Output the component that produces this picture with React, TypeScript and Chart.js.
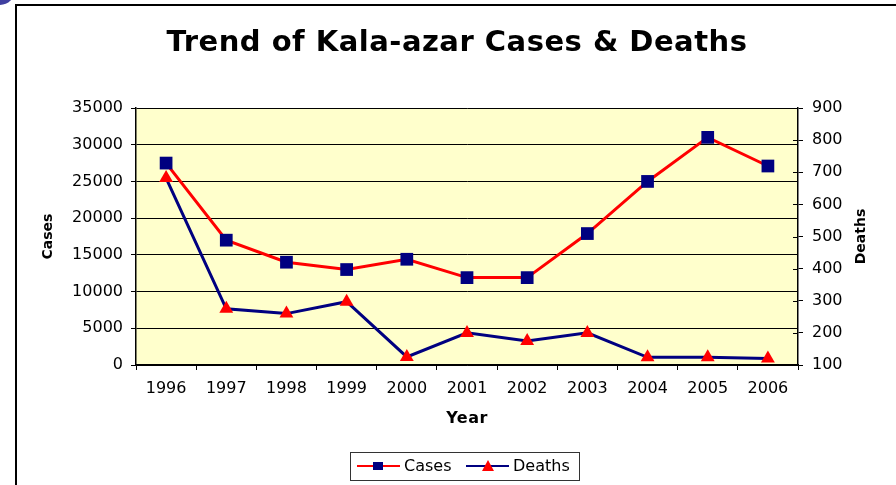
import React, { useEffect, useRef } from 'react';
import { Chart, registerables } from 'chart.js';

Chart.register(...registerables);

const years = ['1996', '1997', '1998', '1999', '2000', '2001', '2002', '2003', '2004', '2005', '2006'];
const cases = [27500, 17000, 14000, 13000, 14400, 11900, 11900, 17900, 25000, 31000, 27100];
const deaths = [682, 275, 260, 297, 125, 200, 175, 200, 124, 124, 120];

const casesMin = 0;
const casesMax = 35000;
const casesStep = 5000;
const deathsMin = 100;
const deathsMax = 900;
const deathsStep = 100;

const TITLE = 'Trend of Kala-azar Cases & Deaths';
const X_TITLE = 'Year';
const Y_TITLE = 'Cases';
const Y1_TITLE = 'Deaths';

const RED = '#FF0000';
const NAVY = '#000080';
const FONT = 'DejaVu Sans';

const decorPlugin = {
  id: 'decor',
  beforeDraw(chart: any) {
    const { ctx, width, height, chartArea } = chart;
    ctx.save();
    ctx.fillStyle = '#ffffff';
    ctx.fillRect(0, 0, width, height);
    // slide decoration (top-left)
    ctx.fillStyle = '#3f3fa0';
    ctx.beginPath();
    ctx.arc(0, -10, 15, 0, Math.PI * 2);
    ctx.fill();
    // frame
    ctx.strokeStyle = '#000000';
    ctx.lineWidth = 2;
    ctx.beginPath();
    ctx.moveTo(16, height + 2);
    ctx.lineTo(16, 5);
    ctx.lineTo(width + 2, 5);
    ctx.stroke();
    // plot area
    ctx.fillStyle = '#FFFFCC';
    ctx.fillRect(chartArea.left, chartArea.top, chartArea.right - chartArea.left, chartArea.bottom - chartArea.top);
    ctx.restore();
  },
  afterDraw(chart: any) {
    const { ctx, chartArea, scales } = chart;
    ctx.save();
    // inner part of right-axis ticks
    const y1 = scales.y1;
    ctx.strokeStyle = '#000000';
    ctx.lineWidth = 1;
    y1.ticks.forEach((t: any) => {
      const py = Math.round(y1.getPixelForValue(t.value)) + 0.5;
      ctx.beginPath();
      ctx.moveTo(chartArea.right - 5, py);
      ctx.lineTo(chartArea.right, py);
      ctx.stroke();
    });

    ctx.fillStyle = '#000000';
    // title
    ctx.font = `bold 29px "${FONT}"`;
    ctx.textAlign = 'center';
    ctx.textBaseline = 'middle';
    (ctx as any).letterSpacing = '0.5px';
    ctx.fillText(TITLE, 457, 43);
    (ctx as any).letterSpacing = '0px';

    // x title
    ctx.font = `bold 16px "${FONT}"`;
    (ctx as any).letterSpacing = '0.5px';
    ctx.fillText(X_TITLE, (chartArea.left + chartArea.right) / 2, 419);
    (ctx as any).letterSpacing = '0px';

    // y titles (both read bottom-to-top)
    const midY = (chartArea.top + chartArea.bottom) / 2;
    ctx.font = `bold 14px "${FONT}"`;
    ctx.save();
    ctx.translate(48, midY);
    ctx.rotate(-Math.PI / 2);
    ctx.fillText(Y_TITLE, 0, 0);
    ctx.restore();
    ctx.save();
    ctx.translate(861, midY);
    ctx.rotate(-Math.PI / 2);
    ctx.fillText(Y1_TITLE, 0, 0);
    ctx.restore();

    // legend
    const ds = chart.data.datasets;
    const lx = 350.5, ly = 452.5, lw = 229, lh = 28;
    ctx.strokeStyle = '#333333';
    ctx.lineWidth = 1;
    ctx.strokeRect(lx, ly, lw, lh);
    const cy = 466;
    ctx.font = `16px "${FONT}"`;
    ctx.textAlign = 'left';
    // Cases item
    ctx.strokeStyle = ds[0].borderColor;
    ctx.lineWidth = 2;
    ctx.beginPath();
    ctx.moveTo(357, cy);
    ctx.lineTo(400, cy);
    ctx.stroke();
    ctx.fillStyle = ds[0].pointBackgroundColor;
    ctx.fillRect(373, cy - 4, 10, 8);
    ctx.fillStyle = '#000000';
    ctx.fillText(ds[0].label, 404, cy + 1);
    // Deaths item
    ctx.strokeStyle = ds[1].borderColor;
    ctx.beginPath();
    ctx.moveTo(466, cy);
    ctx.lineTo(509, cy);
    ctx.stroke();
    ctx.fillStyle = ds[1].pointBackgroundColor;
    ctx.beginPath();
    ctx.moveTo(488, cy - 6);
    ctx.lineTo(494, cy + 5);
    ctx.lineTo(482, cy + 5);
    ctx.closePath();
    ctx.fill();
    ctx.fillStyle = '#000000';
    ctx.fillText(ds[1].label, 513, cy + 1);
    ctx.restore();
  },
};

const plain = (v: any) => String(v);

export default function App() {
  const canvasRef = useRef<HTMLCanvasElement | null>(null);

  useEffect(() => {
    if (!canvasRef.current) return;
    const tickFont = { family: FONT, size: 16 };
    const chart = new Chart(canvasRef.current, {
      type: 'line',
      data: {
        labels: years,
        datasets: [
          {
            label: 'Cases',
            data: cases,
            yAxisID: 'y',
            borderColor: RED,
            backgroundColor: NAVY,
            borderWidth: 3,
            pointStyle: 'rect',
            pointRadius: 9,
            pointBackgroundColor: NAVY,
            pointBorderColor: NAVY,
            pointBorderWidth: 0,
            tension: 0,
            fill: false,
          },
          {
            label: 'Deaths',
            data: deaths,
            yAxisID: 'y1',
            borderColor: NAVY,
            backgroundColor: RED,
            borderWidth: 3,
            pointStyle: 'triangle',
            pointRadius: 8,
            pointBackgroundColor: RED,
            pointBorderColor: RED,
            pointBorderWidth: 0,
            tension: 0,
            fill: false,
          },
        ],
      },
      options: {
        responsive: false,
        animation: false,
        layout: { padding: { top: 108, left: 0, right: 0, bottom: 0 } },
        plugins: {
          legend: { display: false },
          title: { display: false },
          tooltip: { enabled: false },
        },
        scales: {
          x: {
            type: 'category',
            offset: true,
            grid: { display: true, drawOnChartArea: false, drawTicks: true, tickLength: 5, color: '#000000', offset: true },
            border: { display: true, color: '#000000', width: 1.5 },
            ticks: { color: '#000000', font: tickFont, padding: 9, maxRotation: 0, autoSkip: false },
            afterFit: (s: any) => { s.height = 120; },
          },
          y: {
            position: 'left',
            min: casesMin,
            max: casesMax,
            ticks: { stepSize: casesStep, color: '#000000', font: tickFont, padding: 8, callback: plain },
            grid: { color: '#000000', lineWidth: 1, tickLength: 5 },
            border: { display: true, color: '#000000', width: 1.5 },
            afterFit: (s: any) => { s.width = 136; },
          },
          y1: {
            position: 'right',
            min: deathsMin,
            max: deathsMax,
            ticks: { stepSize: deathsStep, color: '#000000', font: tickFont, padding: 9, callback: plain },
            grid: { drawOnChartArea: false, color: '#000000', tickLength: 5 },
            border: { display: true, color: '#000000', width: 1.5 },
            afterFit: (s: any) => { s.width = 98; },
          },
        },
      },
      plugins: [decorPlugin],
    });
    return () => chart.destroy();
  }, []);

  return (
    <div style={{ position: 'fixed', left: 0, top: 0, width: 896, height: 485, background: '#fff' }}>
      <canvas ref={canvasRef} width={896} height={485} style={{ display: 'block' }} />
    </div>
  );
}
